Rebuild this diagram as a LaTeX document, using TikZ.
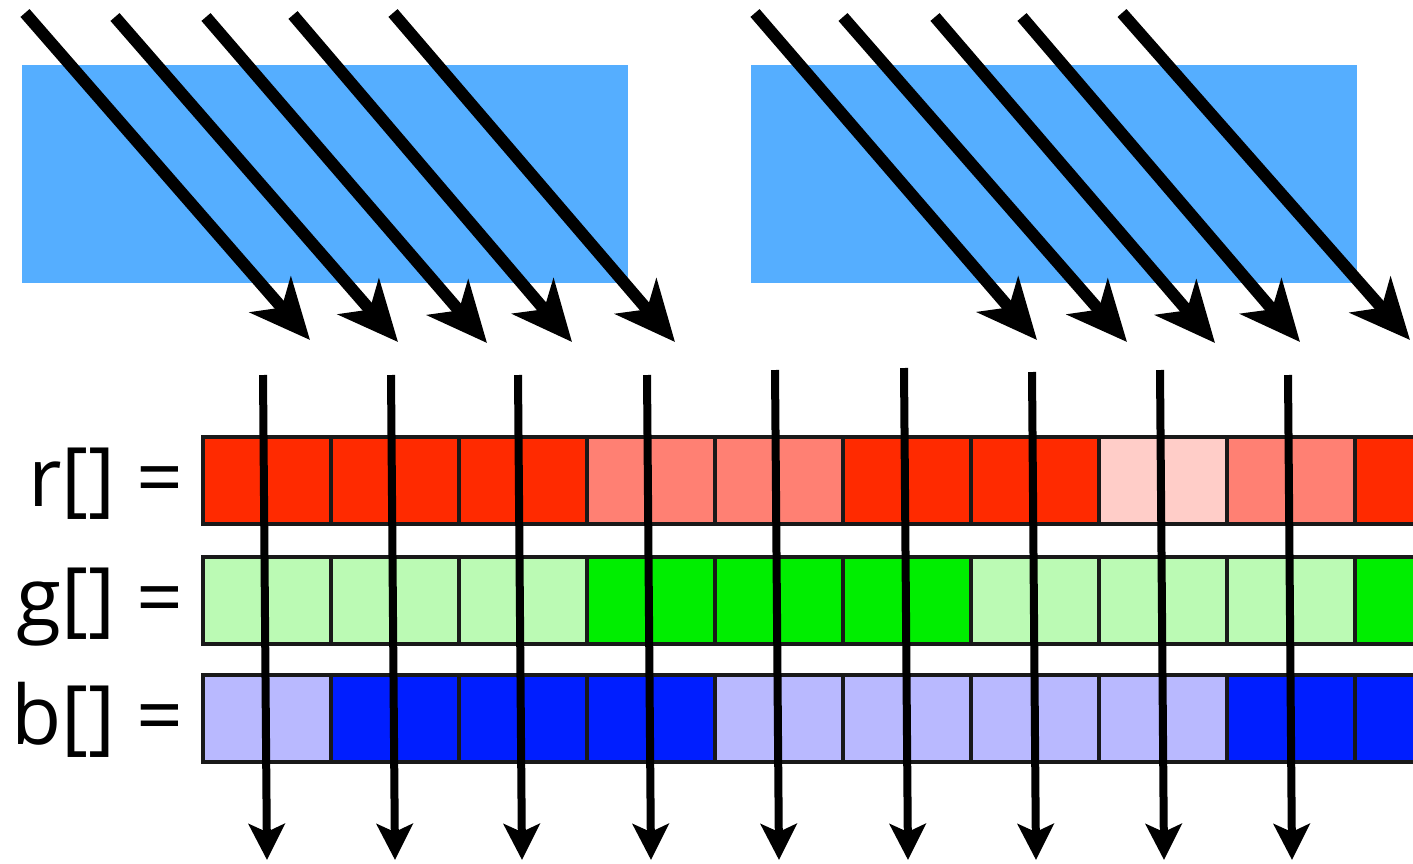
\documentclass[tikz,border=0pt]{standalone}
\usepackage{fontspec}
\setmainfont{Open Sans}
\usetikzlibrary{arrows.meta}

\begin{document}
\begin{tikzpicture}[x=1pt, y=-1pt,
    cell/.style={draw=black!90, line width=3.5pt, minimum width=128pt,
      minimum height=87pt, inner sep=0pt, anchor=north west},
    slant/.style={line width=12pt, -{Stealth[length=60pt, width=54pt, inset=17pt]}},
    down/.style={line width=8pt, -{Stealth[length=36pt, width=36pt, inset=8pt]}},
    rowname/.style={anchor=base east, inner sep=0pt,
      font=\fontsize{82}{90}\selectfont}]
  % Define colors
  \colorlet{block}{rgb,255:red,85;green,174;blue,255}
  \definecolor{rd}{RGB}{255,42,0}
  \definecolor{rl}{RGB}{255,128,115}
  \definecolor{rv}{RGB}{255,205,200}
  \definecolor{gd}{RGB}{0,238,0}
  \definecolor{gl}{RGB}{187,250,180}
  \definecolor{bd}{RGB}{0,30,255}
  \definecolor{bl}{RGB}{185,185,255}

  \clip (0,0) rectangle (1413,863);

  % Source blocks
  \fill[block] (22,65) rectangle (628,283);
  \fill[block] (751,65) rectangle (1357,283);

  % Slanted reads
  \foreach \sx/\sy/\ex/\ey [count=\i] in {25/13/310/340, 115/17/398/342,
      206/17/487/343, 293/15/572/342, 393/13/675/342,
      755/13/1037/340, 843/17/1127/342, 935/17/1215/343,
      1022/17/1300/342, 1122/13/1410/340} {
    \coordinate (ds\i) at (\sx,\sy);
    \coordinate (de\i) at (\ex,\ey);
    \draw[slant] (ds\i) -- (de\i);
  }

  % Channel arrays
  \foreach \c [count=\i from 0] in {rd,rd,rd,rl,rl,rd,rd,rv,rl,rd}
    \node[cell, fill=\c] (r\i) at ({201+128*\i},435) {};
  \foreach \c [count=\i from 0] in {gl,gl,gl,gd,gd,gd,gl,gl,gl,gd}
    \node[cell, fill=\c] (g\i) at ({201+128*\i},555) {};
  \foreach \c [count=\i from 0] in {bl,bd,bd,bd,bl,bl,bl,bl,bd,bd}
    \node[cell, fill=\c] (b\i) at ({201+128*\i},673) {};

  \node[rowname] (rname) at (184,506) {r[] =};
  \node[rowname] (gname) at (184,626) {g[] =};
  \node[rowname] (bname) at (184,744) {b[] =};

  % Straight writes
  \foreach \x/\t [count=\i] in {263/375, 391/375, 518/375, 647/375, 775/370,
      904/368, 1032/372, 1160/370, 1288/375} {
    \coordinate (vt\i) at (\x,\t);
    \coordinate (vb\i) at (\x+4,860);
    \draw[down] (vt\i) -- (vb\i);
  }
\end{tikzpicture}
\end{document}
